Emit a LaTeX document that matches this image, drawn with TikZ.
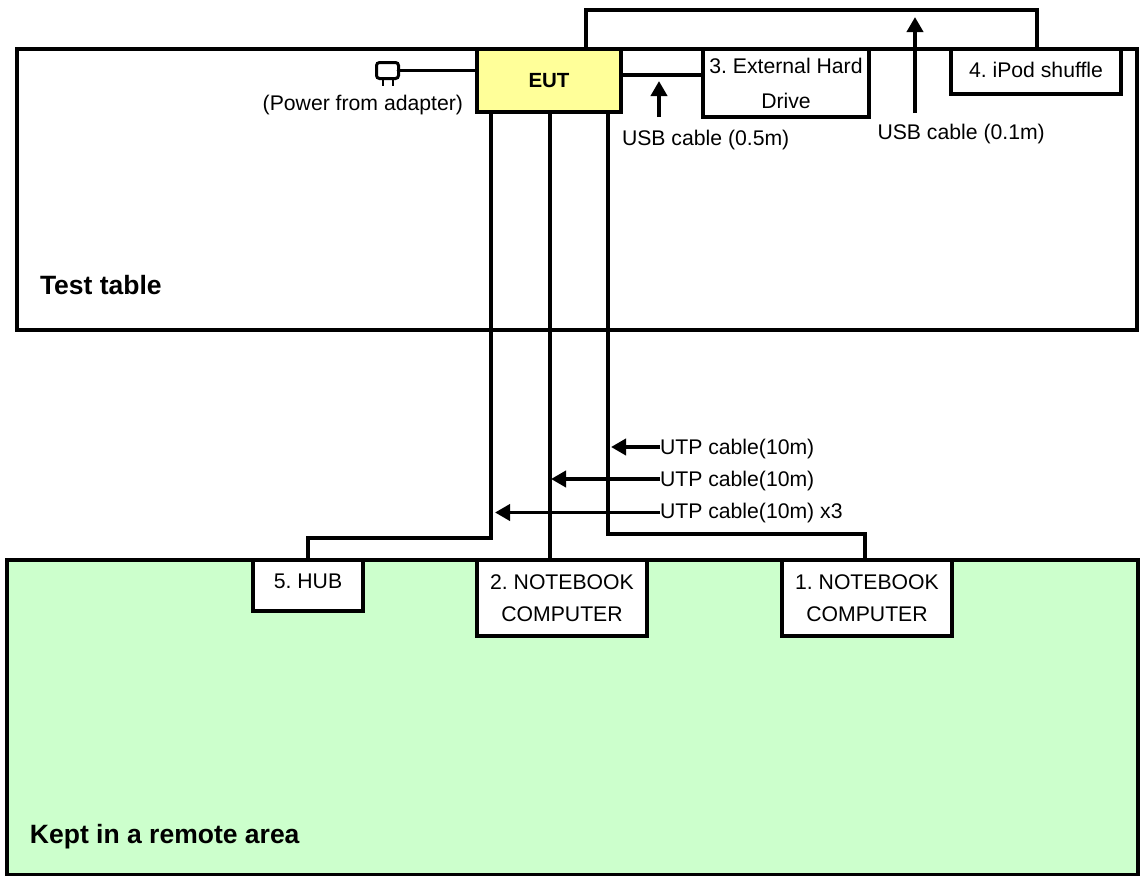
\documentclass[tikz,border=0pt]{standalone}
\usepackage{fontspec}
\setmainfont{Liberation Sans}
\usetikzlibrary{arrows.meta,calc}
\definecolor{eutyellow}{HTML}{FFFF99}
\definecolor{remotegreen}{HTML}{CCFFCC}
\tikzset{
  area/.style={draw=black,line width=4.8pt,outer sep=0pt,inner sep=0pt,anchor=north west},
  devbox/.style={draw=black,line width=3.5pt,fill=white,outer sep=0pt,inner sep=0pt,align=center,anchor=north west,font=\frenchspacing\fontsize{21.2}{32}\selectfont},
  cable/.style={line width=3.8pt,line cap=round,line join=miter},
  callout/.style={line width=3.8pt,-{Triangle[length=15pt,width=16pt]},shorten >=0pt},
  lbl/.style={inner sep=0pt,outer sep=0pt,font=\frenchspacing\fontsize{21.2}{25}\selectfont},
  arealbl/.style={inner sep=0pt,outer sep=0pt,anchor=west,font=\fontsize{26.5}{30}\selectfont\bfseries},
}
\begin{document}
\begin{tikzpicture}[x=1pt,y=-1pt]
\useasboundingbox (0,0) rectangle (1144,876);
% areas
\node[area,line width=4.5pt,minimum width=1131pt,minimum height=315pt,fill=remotegreen] (remote) at (7,560) {};
\node[area,minimum width=1120pt,minimum height=281pt,fill=white] (table) at (17,49) {};
\node[arealbl] (tablelbl) at (40,285) {Test table};
\node[arealbl] (remotelbl) at (30,836.5) {Kept in a remote area};
% devices
\node[devbox,line width=4pt,fill=eutyellow,minimum width=144pt,minimum height=63pt,font=\fontsize{20.5}{25}\selectfont\bfseries] (eut) at (477,49) {EUT};
\node[devbox,minimum width=166pt,minimum height=68pt] (hdd) at (703,49) {\raisebox{2pt}{3. External Hard}\\\raisebox{-1pt}{Drive}};
\node[devbox,minimum width=170pt,minimum height=45pt] (ipod) at (951,49) {\raisebox{3pt}{4. iPod shuffle}};
\node[devbox,minimum width=110pt,minimum height=51pt] (hub) at (253,560) {\raisebox{8pt}{5. HUB}};
\node[devbox,minimum width=170pt,minimum height=76pt] (nb2) at (477,560) {\raisebox{0pt}{2. NOTEBOOK}\\\raisebox{0pt}{COMPUTER}};
\node[devbox,minimum width=170pt,minimum height=76pt] (nb1) at (782,560) {\raisebox{0pt}{1. NOTEBOOK}\\\raisebox{0pt}{COMPUTER}};
% plug
\node[draw=black,line width=3pt,rounded corners=3pt,minimum width=22pt,minimum height=16pt,outer sep=0pt,inner sep=0pt,fill=white] (plug) at (387.5,70.5) {};
\coordinate (pinA) at (383,79);
\coordinate (pinB) at (393,79);
\draw[line width=1.2pt] (pinA) -- ++(0,7);
\draw[line width=1.2pt] (pinB) -- ++(0,7);
\node[lbl,anchor=east] (powerlbl) at (463,105) {(Power from adapter)};
% cables
\coordinate (usbtopL) at (586,10);
\coordinate (usbtopR) at (1037,10);
\coordinate (eutA) at (491,112);
\coordinate (eutB) at (550,112);
\coordinate (eutC) at (608,112);
\coordinate (bendA) at (491,538);
\coordinate (bendC) at (608,534);
\draw[cable] (plug.east) -- (plug.east -| eut.west);
\draw[cable] (eut.east |- 0,75) -- (hdd.west |- 0,75);
\draw[cable] (eut.north -| usbtopL) -- (usbtopL) -- (usbtopR) -- (usbtopR |- ipod.north);
\draw[cable] (eut.south -| eutA) -- (bendA) -- (bendA -| hub.north) -- (hub.north);
\draw[cable] (eut.south -| eutB) -- (eutB |- nb2.north);
\draw[cable] (eut.south -| eutC) -- (bendC) -- (bendC -| 865,0) -- (865,560);
% callouts
\node[lbl,anchor=west] (usb05) at (622,140.5) {USB cable (0.5m)};
\node[lbl,anchor=west] (usb01) at (877.5,134.5) {USB cable (0.1m)};
\node[lbl,anchor=west] (utp1) at (660,449) {UTP cable(10m)};
\node[lbl,anchor=west] (utp2) at (660,481) {UTP cable(10m)};
\node[lbl,anchor=west] (utp3) at (660,513) {UTP cable(10m) x3};
\coordinate (tip05) at (659,81);
\coordinate (tip01) at (915,17);
\coordinate (tip1) at (611,447);
\coordinate (tip2) at (551,479);
\coordinate (tip3) at (495,512.5);
\coordinate (stem1) at (660,447);
\coordinate (stem2) at (660,479);
\draw[callout] (659,117) -- (tip05);
\draw[callout] (915,113) -- (tip01);
\draw[callout] (utp1.west |- stem1) -- (tip1);
\draw[callout] (utp2.west |- stem2) -- (tip2);
\draw[callout] (utp3.west |- tip3) -- (tip3);
\end{tikzpicture}
\end{document}
